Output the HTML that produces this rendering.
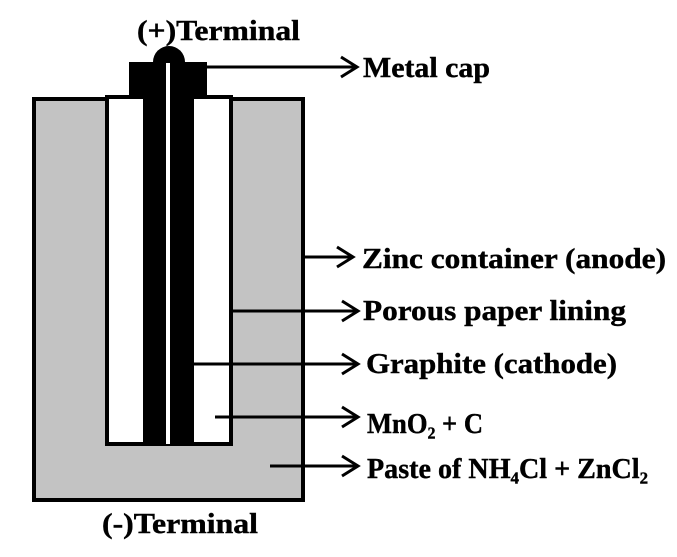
<!DOCTYPE html>
<html><head><meta charset="utf-8"><style>
html,body{margin:0;padding:0;background:#fff;}
svg{display:block;}
text{font-family:"Liberation Serif",serif;font-weight:bold;font-size:28px;fill:#000;stroke:#000;stroke-width:0.4;}
</style></head><body>
<svg width="677" height="557" viewBox="0 0 677 557">
  <rect x="34" y="99" width="269" height="401" fill="#c3c3c3" stroke="#000" stroke-width="4"/>
  <rect x="107" y="97" width="124" height="347" fill="#fff" stroke="#000" stroke-width="4"/>
  <rect x="143" y="97" width="51" height="347" fill="#000"/>
  <circle cx="169" cy="62" r="16" fill="#000"/>
  <rect x="129" y="62" width="78" height="37" fill="#000"/>
  <rect x="166" y="63" width="4" height="381" fill="#fff"/>
  <g stroke="#000" stroke-width="3" fill="none">
    <path d="M207 67H356M341 57L357 67L341 77"/>
    <path d="M305 257H352M337 247L353 257L337 267"/>
    <path d="M233 311H357M342 301L358 311L342 321"/>
    <path d="M194 364H357M342 354L358 364L342 374"/>
    <path d="M215 417H357M342 407L358 417L342 427"/>
    <path d="M270 466H357M342 456L358 466L342 476"/>
  </g>
  <text x="137" y="40" textLength="163" lengthAdjust="spacingAndGlyphs">(+)Terminal</text>
  <text x="363" y="77" textLength="127" lengthAdjust="spacingAndGlyphs">Metal cap</text>
  <text x="362" y="268" textLength="304" lengthAdjust="spacingAndGlyphs">Zinc container (anode)</text>
  <text x="363" y="320" textLength="263" lengthAdjust="spacingAndGlyphs">Porous paper lining</text>
  <text x="366" y="373" textLength="251" lengthAdjust="spacingAndGlyphs">Graphite (cathode)</text>
  <text x="367" y="433" textLength="116" lengthAdjust="spacingAndGlyphs">MnO₂ + C</text>
  <text x="367" y="478" textLength="281" lengthAdjust="spacingAndGlyphs">Paste of NH₄Cl + ZnCl₂</text>
  <text x="102" y="533" textLength="156" lengthAdjust="spacingAndGlyphs">(-)Terminal</text>
</svg>
</body></html>
